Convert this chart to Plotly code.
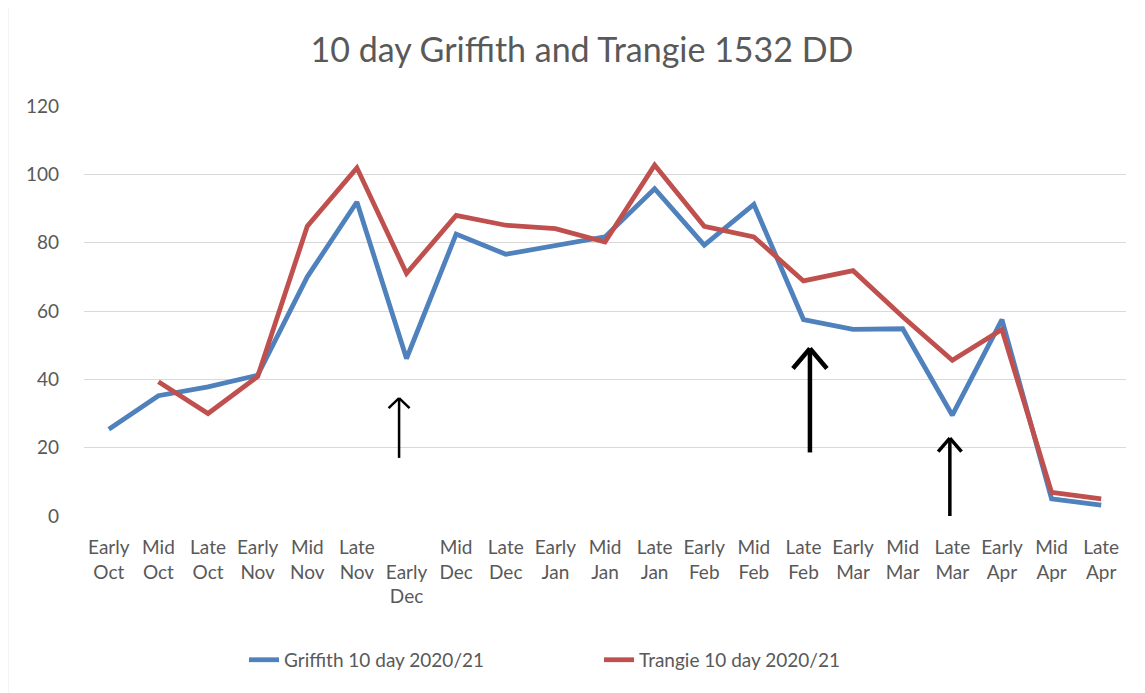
import plotly.graph_objects as go

categories = ["Early<br>Oct", "Mid<br>Oct", "Late<br>Oct", "Early<br>Nov", "Mid<br>Nov", "Late<br>Nov",
              "&nbsp;<br>Early<br>Dec", "Mid<br>Dec", "Late<br>Dec", "Early<br>Jan", "Mid<br>Jan", "Late<br>Jan",
              "Early<br>Feb", "Mid<br>Feb", "Late<br>Feb", "Early<br>Mar", "Mid<br>Mar", "Late<br>Mar",
              "Early<br>Apr", "Mid<br>Apr", "Late<br>Apr"]

griffith = [25.4, 35.2, 37.8, 41.2, 70.0, 91.9, 46.1, 82.5, 76.6, 79.3, 81.7, 95.8,
            79.3, 91.2, 57.5, 54.6, 54.8, 29.5, 57.5, 5.0, 3.2]
trangie = [None, 39.3, 30.0, 40.8, 84.8, 101.9, 71.0, 88.0, 85.1, 84.1, 80.2, 102.7,
           84.8, 81.7, 68.8, 71.8, 58.3, 45.6, 54.6, 6.9, 5.0]

y_ticks = [0, 20, 40, 60, 80, 100, 120]

# annotation arrows (category index position, tail value, head value)
arrow_x = [5.85, 14.13, 16.95]
arrow_tail = [17.0, 18.6, -0.2]
arrow_head = [34.5, 49.0, 22.8]
arrow_width = [2.5, 4.5, 3.5]
arrow_wing_px = [(10.5, 10), (17, 20), (11.7, 13.5)]

BLUE = "#4F81BD"
RED = "#C0504D"
TXT = "#595959"
FONT = "Lato"

fig = go.Figure()
fig.add_trace(go.Scatter(x=list(range(len(categories))), y=griffith, mode="lines",
                         name="Griffith 10 day 2020/21",
                         line=dict(color=BLUE, width=4.8)))
fig.add_trace(go.Scatter(x=list(range(len(categories))), y=trangie, mode="lines",
                         name="Trangie 10 day 2020/21",
                         line=dict(color=RED, width=4.8)))

# the page body adds an 8px offset, so the figure is 8px smaller on each axis
W, H = 1137, 685
ml, mr, mt, mb = 75.5, 18.5, 97.7, 177
px_per_cat = (W - ml - mr) / len(categories)
px_per_val = (H - mt - mb) / 120.0

shapes = []
for xi, yt, yh, lw, (wdx, wdy) in zip(arrow_x, arrow_tail, arrow_head, arrow_width, arrow_wing_px):
    shapes.append(dict(type="line", xref="x", yref="y", x0=xi, x1=xi, y0=yt, y1=yh,
                       line=dict(color="black", width=lw)))
    for s in (-1, 1):
        shapes.append(dict(type="line", xref="x", yref="y", x0=xi, y0=yh,
                           x1=xi + s * wdx / px_per_cat, y1=yh - wdy / px_per_val,
                           line=dict(color="black", width=lw)))

# chart border (left and top visible)
bx = (7 - 8 - ml) / (W - ml - mr)
by = 1 + (mt - (7 - 8)) / (H - mt - mb)
shapes.append(dict(type="line", xref="paper", yref="paper", x0=bx, x1=bx, y0=-1.0, y1=by,
                   line=dict(color="#D9D9D9", width=1.5)))
shapes.append(dict(type="line", xref="paper", yref="paper", x0=bx, x1=1.2, y0=by, y1=by,
                   line=dict(color="#D9D9D9", width=1.5)))

fig.update_layout(
    width=W, height=H,
    margin=dict(l=ml, r=mr, t=mt, b=mb),
    paper_bgcolor="white", plot_bgcolor="white",
    font=dict(family=FONT, color=TXT, size=19),
    title=dict(text="10 day Griffith and Trangie 1532 DD", x=(582 - 8) / W, xref="container",
               xanchor="center", y=1 - 42 / H, yanchor="middle",
               font=dict(size=34, color=TXT, family=FONT)),
    xaxis=dict(range=[-0.5, len(categories) - 0.5], tickmode="array",
               tickvals=list(range(len(categories))), ticktext=categories,
               showgrid=False, zeroline=False, showline=False, ticks="",
               tickangle=0, ticklabelstandoff=18, tickfont=dict(size=19, color=TXT)),
    yaxis=dict(range=[0, 120], tickvals=y_ticks, showgrid=True, gridcolor="#D9D9D9", gridwidth=1.3,
               zeroline=False, showline=False, ticks="", ticklabelstandoff=24,
               tickfont=dict(size=19, color=TXT)),
    legend=dict(orientation="h", x=0.5 - 6 / (W - ml - mr), xanchor="center",
                y=-(652 - 508) / (H - mt - mb),
                yanchor="middle", font=dict(size=19, color=TXT), entrywidth=310,
                entrywidthmode="pixels", bgcolor="rgba(0,0,0,0)"),
    shapes=shapes,
    showlegend=True,
)

fig.write_html("out.html")
